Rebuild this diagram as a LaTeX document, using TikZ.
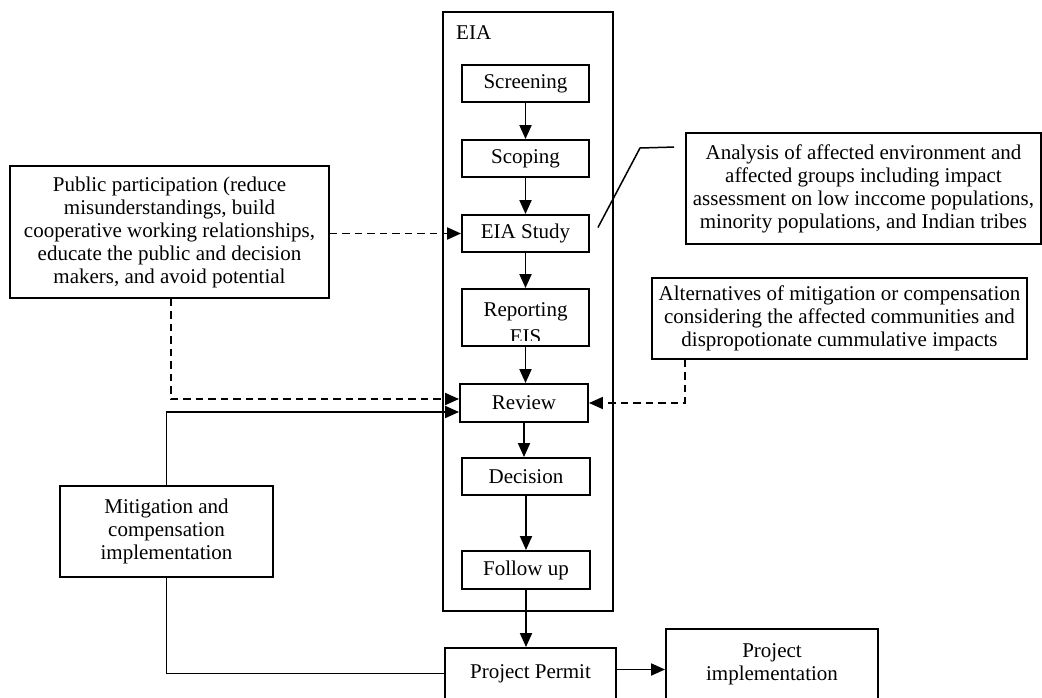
\documentclass[tikz,border=0pt]{standalone}
\usepackage{fontspec}
\setmainfont{Liberation Serif}
\usetikzlibrary{arrows.meta}
\tikzset{
  txt/.style={font=\fontsize{21}{23}\selectfont},
  box/.style={txt, draw, line width=1.9pt, inner sep=0pt, align=center},
  arr/.style={line width=1.9pt, -{Triangle[length=14pt,width=12pt]}},
  link/.style={line width=1.9pt},
  dsh/.style={dash pattern=on 7.5pt off 5pt},
}
\begin{document}
\begin{tikzpicture}[x=1pt, y=-1pt]
\useasboundingbox (0,0) rectangle (1042,698);

% EIA frame and its process steps
\node[box, minimum width=170pt, minimum height=599pt] (eia) at (528,311.5) {};
\node[txt, inner sep=0pt, anchor=west] (eiatitle) at (456,33) {EIA};
\node[box, minimum width=127pt, minimum height=37pt] (scr) at (525.5,83.5) {Screening};
\node[box, minimum width=127pt, minimum height=37pt] (sco) at (525.5,158.5) {Scoping};
\node[box, minimum width=127pt, minimum height=37pt] (stu) at (525.5,233.5) {EIA Study};
\node[box, minimum width=127pt, minimum height=57pt] (rep) at (525.5,317.5) {};
\begin{scope}
  \clip (rep.north west) rectangle ([yshift=6pt]rep.south east);
  \node[txt, inner sep=0pt, align=center, anchor=north] (reptext) at (525.5,302) {Reporting\\[4pt]EIS};
\end{scope}
\node[box, minimum width=128pt, minimum height=38pt] (rev) at (524,403) {Review};
\node[box, minimum width=128pt, minimum height=37pt] (dec) at (526,476.5) {Decision};
\node[box, minimum width=128pt, minimum height=38pt] (fol) at (526,570) {Follow up};

% outcome boxes
\node[box, minimum width=171pt, minimum height=51pt] (per) at (530.5,673.5) {Project Permit};
\node[box, minimum width=212pt, minimum height=70pt] (imp) at (772,664) {Project\\implementation};

% side boxes
\node[box, minimum width=319pt, minimum height=132pt] (pub) at (169.5,232)
  {Public participation (reduce\\misunderstandings, build\\cooperative working relationships,\\educate the public and decision\\makers, and avoid potential};
\node[box, minimum width=213pt, minimum height=91pt] (mit) at (166.5,531.5)
  {Mitigation and\\compensation\\implementation};
\node[box, minimum width=355pt, minimum height=111pt] (ana) at (863.5,188.5)
  {Analysis of affected environment and\\affected groups including impact\\assessment on low inccome populations,\\minority populations, and Indian tribes};
\node[box, minimum width=375pt, minimum height=81pt] (alt) at (839.5,318.5)
  {Alternatives of mitigation or compensation\\considering the affected communities and\\dispropotionate cummulative impacts};

% main sequence
\draw[arr] (scr.south) -- (scr.south |- sco.north);
\draw[arr] (sco.south) -- (sco.south |- stu.north);
\draw[arr] (stu.south) -- (stu.south |- rep.north);
\draw[arr] (rep.south) -- (rep.south |- rev.north);
\draw[arr] (rev.south) -- (rev.south |- dec.north);
\draw[arr] (dec.south) -- (dec.south |- fol.north);
\draw[arr] (fol.south) -- (fol.south |- per.north);
\draw[arr] ([yshift=4pt]per.east) -- ([yshift=4pt]per.east -| imp.west);

% inputs from the side boxes
\draw[arr, dsh] (stu.west -| pub.east) -- (stu.west);
\draw[arr, dsh] ([xshift=1.5pt]pub.south) |- ([yshift=4pt]rev.west);
\draw[arr] (mit.north) |- ([yshift=-9pt]rev.west);
\draw[link] (mit.south) |- (per.west);
\draw[arr, dsh] ([xshift=34pt]alt.south west) |- (rev.east);

% callout from the EIA study to its analysis note
\coordinate (c1) at ([xshift=8pt,yshift=6pt]stu.east);
\coordinate (c2) at (640,148);
\coordinate (c3) at ([xshift=-11pt,yshift=-15pt]ana.north west);
\draw[link, line width=1.5pt] (c1) -- (c2) -- (c3);
\end{tikzpicture}
\end{document}
